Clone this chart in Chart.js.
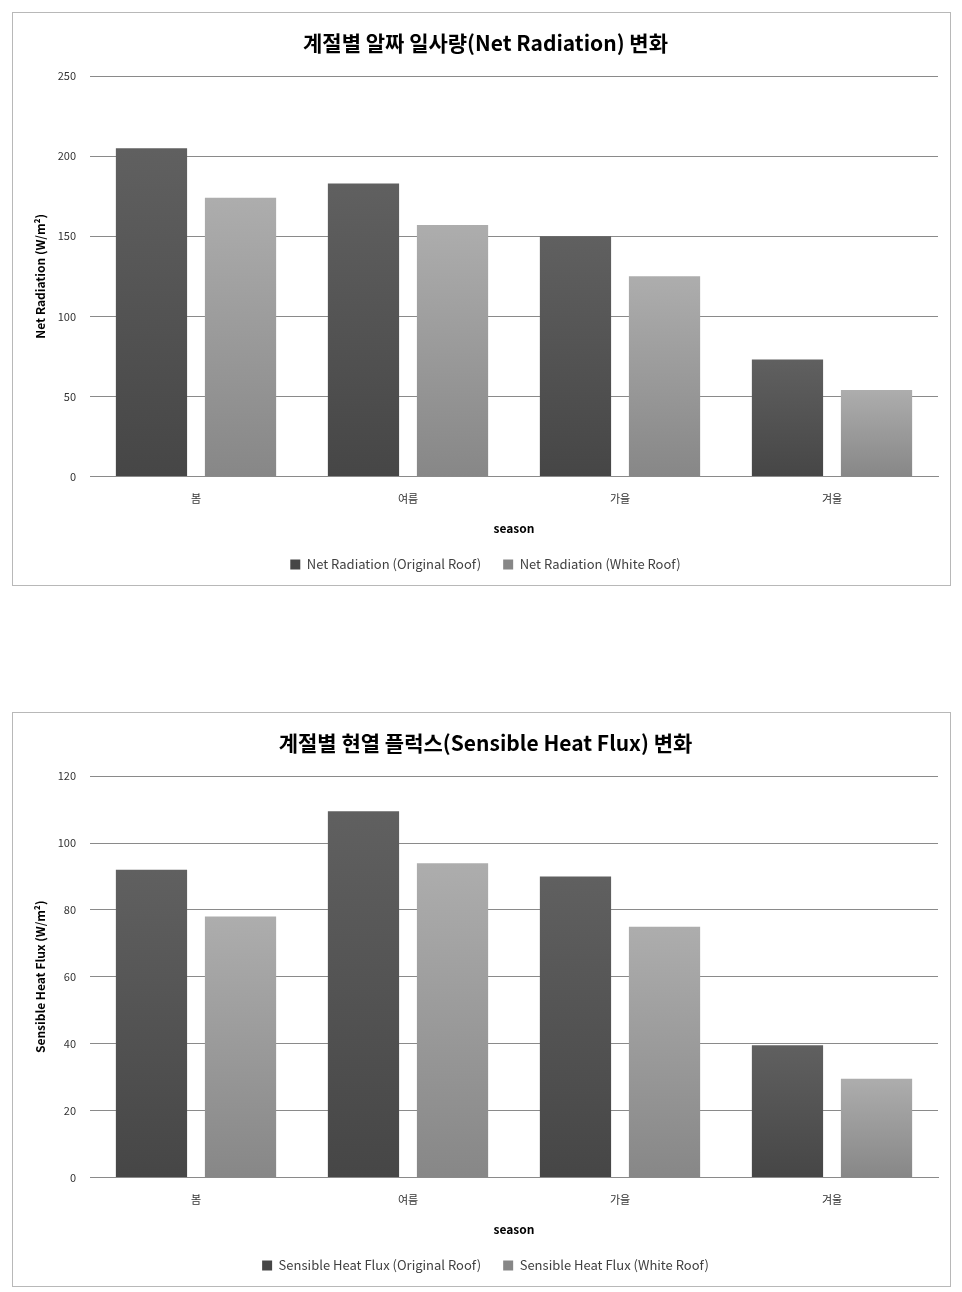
<!DOCTYPE html>
<html>
<head>
<meta charset="utf-8">
<script src="https://cdn.jsdelivr.net/npm/chart.js@4.4.1/dist/chart.umd.min.js"></script>
<style>
  body { margin: 0; background: #fff; }
  .box { position: absolute; left: 12px; width: 937px; border: 1px solid #b8b8b8; background: #fff; }
  #box1 { top: 12px; height: 572px; }
  #box2 { top: 712px; height: 573px; }
</style>
</head>
<body>
<div class="box" id="box1"><canvas id="netChart"></canvas></div>
<div class="box" id="box2"><canvas id="heatChart"></canvas></div>
<script>
// seasons on the x axis
const seasons = ['봄', '여름', '가을', '겨울'];

// net radiation (W/m2)
const netOriginal = [205, 183, 150, 73];
const netWhite = [174, 157, 125, 54];
const netTicks = { max: 250, step: 50 };

// sensible heat flux (W/m2)
const heatOriginal = [92, 109.5, 90, 39.5];
const heatWhite = [78, 94, 75, 29.5];
const heatTicks = { max: 120, step: 20 };

const FONT = '"Noto Sans CJK KR", "Noto Sans", sans-serif';

// excel style gradient: each bar lighter at its top
function barFill(top, bottom) {
  return function (ctx) {
    const chart = ctx.chart;
    if (!chart.chartArea || ctx.raw == null) return top;
    const y = chart.scales.y;
    const g = chart.ctx.createLinearGradient(0, y.getPixelForValue(ctx.raw), 0, y.getPixelForValue(0));
    g.addColorStop(0, top);
    g.addColorStop(1, bottom);
    return g;
  };
}

function makeChart(id, title, yTitle, names, orig, white, ticks) {
  return new Chart(document.getElementById(id), {
    type: 'bar',
    data: {
      labels: seasons,
      datasets: [{
        label: names[0],
        data: orig,
        backgroundColor: barFill('#606060', '#464646'),
        borderWidth: 0
      }, {
        label: names[1],
        data: white,
        backgroundColor: barFill('#adadad', '#878787'),
        borderWidth: 0
      }]
    },
    options: {
      responsive: true,
      maintainAspectRatio: false,
      animation: false,
      layout: { padding: { left: 20, right: 12, top: 0, bottom: 4 } },
      datasets: { bar: { categoryPercentage: 0.84, barPercentage: 0.8 } },
      plugins: {
        title: {
          display: true,
          text: title,
          color: '#000',
          font: { family: FONT, size: 21, weight: 'bold' },
          padding: { top: 17, bottom: 21 }
        },
        legend: {
          position: 'bottom',
          labels: {
            color: '#404040',
            font: { family: FONT, size: 13 },
            boxWidth: 10,
            boxHeight: 10,
            padding: 22
          }
        },
        tooltip: { enabled: false }
      },
      scales: {
        x: {
          grid: { display: false, drawTicks: false },
          border: { color: '#8a8a8a' },
          ticks: { color: '#333', font: { family: FONT, size: 11 }, padding: 16 },
          title: {
            display: true,
            text: 'season',
            color: '#000',
            font: { family: FONT, size: 12, weight: 'bold' },
            padding: { top: 0, bottom: 0 }
          }
        },
        y: {
          min: 0,
          max: ticks.max,
          afterFit: function (scale) { scale.width = 57; },
          grid: { color: '#8a8a8a', drawTicks: false },
          border: { display: false },
          ticks: {
            stepSize: ticks.step,
            color: '#333',
            font: { family: FONT, size: 11 },
            padding: 14
          },
          title: {
            display: true,
            text: yTitle,
            color: '#000',
            font: { family: FONT, size: 12, weight: 'bold' },
            padding: { top: 0, bottom: 0 }
          }
        }
      }
    }
  });
}

makeChart('netChart', '계절별 알짜 일사량(Net Radiation) 변화', 'Net Radiation (W/m²)',
  ['Net Radiation (Original Roof)', 'Net Radiation (White Roof)'], netOriginal, netWhite, netTicks);
makeChart('heatChart', '계절별 현열 플럭스(Sensible Heat Flux) 변화', 'Sensible Heat Flux (W/m²)',
  ['Sensible Heat Flux (Original Roof)', 'Sensible Heat Flux (White Roof)'], heatOriginal, heatWhite, heatTicks);
</script>
</body>
</html>
